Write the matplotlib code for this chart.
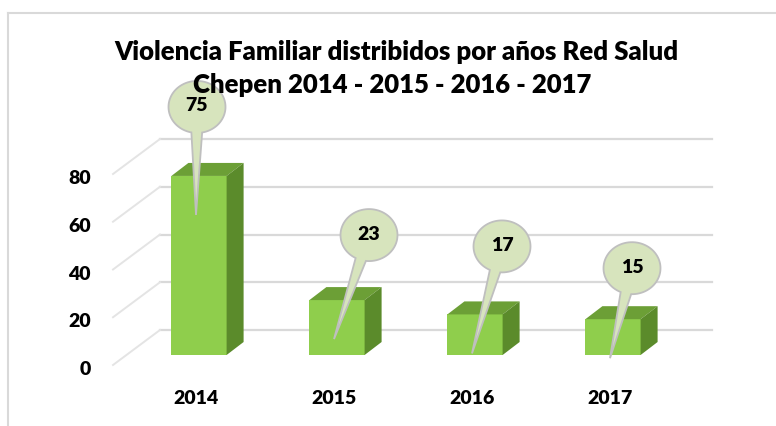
import matplotlib.pyplot as plt
import numpy as np
from matplotlib.patches import Polygon
from matplotlib.lines import Line2D
from matplotlib.transforms import IdentityTransform

years = ['2014', '2015', '2016', '2017']
cases = [75, 23, 17, 15]
y_ticks = [0, 20, 40, 60, 80]
title_1 = 'Violencia Familiar distribidos por años Red Salud'
title_2 = 'Chepen 2014 - 2015 - 2016 - 2017'

# callout layout: bubble centre offset from bar top (px, up positive)
bubble_off = [(-2, 69), (32, 65), (27, 68), (19, 51)]
tip_off = (-3, -39)

W, H, DPI = 776, 426, 100
plt.rcParams['font.family'] = ['Lato', 'DejaVu Sans']
fig = plt.figure(figsize=(W / DPI, H / DPI), dpi=DPI)

# axes = front plane of the bars
ax = fig.add_axes([130 / W, (H - 355) / H, 552 / W, 191 / H])
ax.set_xlim(-0.5, 3.5)
ax.set_ylim(0, 80)
ax.axis('off')

ident = IdentityTransform()
px = ax.transData.transform
wall = np.array([30, 25])     # back wall shift
depth = np.array([17, 13])    # bar depth shift
floor = np.array([-47, -35])  # side wall grid line, back to front
wt = 800

grid_c = '#d9d9d9'
for v in y_ticks:
    a = px((-0.5, v)) + wall
    b = px((3.5, v)) + wall
    ax.add_line(Line2D([a[0], b[0]], [a[1], b[1]], color=grid_c, lw=1.6,
                       transform=ident, clip_on=False, zorder=1))
    c = a + floor
    ax.add_line(Line2D([a[0], c[0]], [a[1], c[1]], color='#e4e4e4', lw=1.4,
                       transform=ident, clip_on=False, zorder=1))
    fig.text(c[0] - 22, c[1] - 10, str(v), transform=ident, ha='right',
             va='baseline', fontsize=14, fontweight=wt)

front_c, top_c, side_c = '#8fce4c', '#6c9f36', '#5b8b2b'
bw = 0.4
ax.bar(range(len(cases)), cases, width=bw, color=front_c, zorder=2)
for i, v in enumerate(cases):
    fl, fr = px((i - bw / 2, v)), px((i + bw / 2, v))
    br = px((i + bw / 2, 0))
    ax.add_patch(Polygon([fl, fr, fr + depth, fl + depth], closed=True,
                         facecolor=top_c, edgecolor='none', transform=ident,
                         clip_on=False, zorder=2))
    ax.add_patch(Polygon([br, fr, fr + depth, br + depth], closed=True,
                         facecolor=side_c, edgecolor='none', transform=ident,
                         clip_on=False, zorder=2))
    # x label
    p0 = px((i, 0))
    fig.text(p0[0] - 3, p0[1] - 49, years[i], transform=ident, ha='center',
             va='baseline', fontsize=14, fontweight=wt)

# callouts
rx, ry, half = 28.5, 26, 0.19
for i, v in enumerate(cases):
    top = px((i, v))
    cen = top + np.array(bubble_off[i])
    tip = top + np.array(tip_off)
    d = tip - cen
    t0 = np.arctan2(d[1] / ry, d[0] / rx)
    ts = np.linspace(t0 + half, t0 + 2 * np.pi - half, 80)
    pts = np.column_stack([cen[0] + rx * np.cos(ts), cen[1] + ry * np.sin(ts)])
    pts = np.vstack([tip, pts])
    ax.add_patch(Polygon(pts, closed=True, facecolor='#d7e4bd',
                         edgecolor='#bfbfbf', lw=1.3, transform=ident,
                         clip_on=False, zorder=5))
    fig.text(cen[0], cen[1] + 1, str(v), transform=ident, ha='center',
             va='center', fontsize=14, fontweight=wt, zorder=6)

# title
fig.text(396, H - 60, title_1, transform=ident, ha='center', va='baseline',
         fontsize=18.5, fontweight=wt)
fig.text(392, H - 93, title_2, transform=ident, ha='center', va='baseline',
         fontsize=18.5, fontweight=wt)

# chart frame
fig.add_artist(Line2D([8 / W, 1], [1 - 13 / H, 1 - 13 / H], color='#d9d9d9',
                      lw=1.5, transform=fig.transFigure))
fig.add_artist(Line2D([8 / W, 8 / W], [0, 1 - 13 / H], color='#d9d9d9',
                      lw=1.5, transform=fig.transFigure))

fig.savefig('out.png', dpi=DPI)
